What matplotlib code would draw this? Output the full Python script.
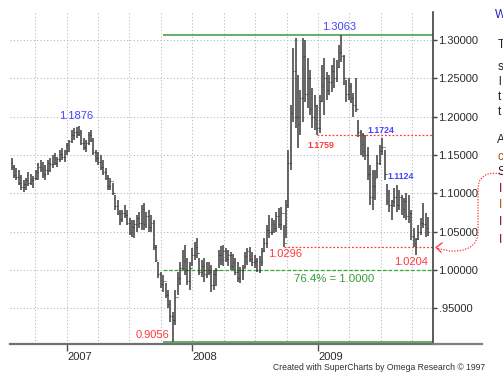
import numpy as np
import pandas as pd
import matplotlib
matplotlib.use('Agg')
import matplotlib.pyplot as plt
import matplotlib.dates as mdates
import matplotlib.transforms as mtransforms
from matplotlib.path import Path
from matplotlib.patches import PathPatch
from matplotlib.lines import Line2D

plt.rcParams['font.family'] = ['Liberation Sans', 'DejaVu Sans']

# weekly bars, EUR/USD style quote
start = '2006-07-24'
highs = [1.146, 1.137, 1.133, 1.131, 1.124, 1.117, 1.120, 1.128, 1.125, 1.123,
         1.131, 1.140, 1.144, 1.141, 1.137, 1.144, 1.146, 1.150, 1.153, 1.148,
         1.157, 1.159, 1.157, 1.166, 1.170, 1.183, 1.185, 1.187, 1.188, 1.183,
         1.172, 1.170, 1.180, 1.183, 1.172, 1.157, 1.154, 1.150, 1.144, 1.133,
         1.124, 1.120, 1.114, 1.098, 1.091, 1.078, 1.078, 1.085, 1.078, 1.068,
         1.065, 1.065, 1.072, 1.076, 1.085, 1.087, 1.076, 1.078, 1.072, 1.065,
         1.033, 1.010, 0.997, 0.993, 0.983, 0.974, 0.961, 0.945, 0.974, 0.997,
         1.010, 1.026, 1.033, 1.016, 1.010, 1.029, 1.037, 1.042, 1.016, 1.013,
         1.016, 1.010, 1.010, 1.007, 1.000, 1.003, 1.026, 1.031, 1.033, 1.029,
         1.026, 1.023, 1.021, 1.016, 1.010, 1.004, 1.007, 1.023, 1.029, 1.030,
         1.023, 1.020, 1.016, 1.018, 1.029, 1.042, 1.059, 1.072, 1.068, 1.065,
         1.076, 1.081, 1.082, 1.059, 1.091, 1.157, 1.215, 1.290, 1.303, 1.255,
         1.235, 1.303, 1.300, 1.277, 1.261, 1.238, 1.228, 1.215, 1.228, 1.268,
         1.277, 1.258, 1.255, 1.268, 1.277, 1.274, 1.294, 1.307, 1.281, 1.248,
         1.251, 1.244, 1.231, 1.251, 1.196, 1.183, 1.179, 1.176, 1.161, 1.137,
         1.131, 1.131, 1.150, 1.163, 1.172, 1.157, 1.112, 1.104, 1.091, 1.107,
         1.111, 1.104, 1.098, 1.094, 1.101, 1.098, 1.078, 1.055, 1.042, 1.059,
         1.068, 1.087, 1.074, 1.069]
lows = [1.131, 1.120, 1.117, 1.111, 1.104, 1.102, 1.104, 1.110, 1.111, 1.107,
        1.117, 1.117, 1.128, 1.120, 1.117, 1.124, 1.128, 1.133, 1.137, 1.134,
        1.141, 1.144, 1.141, 1.150, 1.154, 1.166, 1.170, 1.172, 1.175, 1.163,
        1.157, 1.154, 1.163, 1.167, 1.150, 1.141, 1.137, 1.131, 1.124, 1.117,
        1.104, 1.104, 1.098, 1.078, 1.072, 1.059, 1.063, 1.068, 1.059, 1.046,
        1.043, 1.042, 1.050, 1.055, 1.052, 1.052, 1.055, 1.050, 1.050, 1.026,
        1.010, 0.990, 0.977, 0.971, 0.963, 0.950, 0.932, 0.906, 0.928, 0.967,
        0.980, 1.000, 0.993, 0.980, 0.974, 1.005, 1.013, 1.016, 0.993, 0.991,
        0.984, 0.990, 0.993, 0.971, 0.974, 0.979, 1.003, 1.007, 1.005, 1.010,
        1.005, 1.000, 1.000, 0.993, 0.984, 0.983, 0.987, 1.003, 1.007, 1.010,
        1.005, 1.003, 0.997, 0.996, 1.005, 1.023, 1.029, 1.042, 1.046, 1.048,
        1.050, 1.055, 1.052, 1.030, 1.042, 1.081, 1.131, 1.193, 1.185, 1.159,
        1.176, 1.193, 1.219, 1.211, 1.202, 1.185, 1.183, 1.176, 1.179, 1.219,
        1.202, 1.222, 1.228, 1.232, 1.238, 1.245, 1.264, 1.272, 1.242, 1.219,
        1.222, 1.218, 1.200, 1.206, 1.174, 1.150, 1.148, 1.144, 1.117, 1.085,
        1.078, 1.091, 1.120, 1.137, 1.150, 1.117, 1.085, 1.076, 1.065, 1.082,
        1.076, 1.078, 1.072, 1.068, 1.065, 1.061, 1.039, 1.030, 1.020, 1.039,
        1.046, 1.055, 1.043, 1.044]
closes = [1.135, 1.124, 1.121, 1.114, 1.108, 1.112, 1.117, 1.114, 1.118, 1.120,
          1.128, 1.134, 1.132, 1.125, 1.131, 1.140, 1.138, 1.146, 1.140, 1.145,
          1.151, 1.148, 1.155, 1.163, 1.168, 1.176, 1.180, 1.178, 1.180, 1.166,
          1.160, 1.166, 1.176, 1.170, 1.154, 1.146, 1.141, 1.135, 1.128, 1.120,
          1.110, 1.116, 1.101, 1.083, 1.075, 1.066, 1.075, 1.072, 1.062, 1.050,
          1.056, 1.060, 1.068, 1.061, 1.080, 1.060, 1.070, 1.056, 1.062, 1.030,
          1.013, 0.995, 0.982, 0.986, 0.968, 0.955, 0.940, 0.935, 0.965, 0.990,
          1.003, 1.012, 1.000, 0.985, 1.002, 1.020, 1.030, 1.022, 0.998, 1.005,
          0.995, 1.000, 0.998, 0.980, 0.995, 1.000, 1.020, 1.015, 1.025, 1.015,
          1.020, 1.005, 1.010, 0.998, 0.990, 1.000, 1.003, 1.018, 1.025, 1.015,
          1.010, 1.012, 1.000, 1.010, 1.025, 1.035, 1.052, 1.050, 1.060, 1.055,
          1.070, 1.060, 1.075, 1.035, 1.085, 1.140, 1.205, 1.260, 1.200, 1.190,
          1.225, 1.280, 1.230, 1.250, 1.210, 1.200, 1.215, 1.185, 1.220, 1.240,
          1.250, 1.235, 1.245, 1.260, 1.250, 1.265, 1.285, 1.280, 1.250, 1.230,
          1.240, 1.225, 1.215, 1.210, 1.180, 1.165, 1.155, 1.150, 1.125, 1.095,
          1.110, 1.120, 1.140, 1.155, 1.160, 1.125, 1.090, 1.085, 1.090, 1.095,
          1.085, 1.095, 1.080, 1.090, 1.070, 1.075, 1.045, 1.035, 1.040, 1.050,
          1.062, 1.060, 1.055, 1.050]
first_open = 1.140

price_ticks = [0.95, 1.00, 1.05, 1.10, 1.15, 1.20, 1.25, 1.30]
price_labels = ['.95000', '1.00000', '1.05000', '1.10000', '1.15000',
                '1.20000', '1.25000', '1.30000']
years = ['2007', '2008', '2009']

# retracement levels
green_levels = [1.3063, 0.9056]
fib_level = 1.0000
red_levels = [(1.1759, 127), (1.0296, 113)]
green_start = 63

# (text, bar, at high?, dx px, dy px, colour, size, bold)
notes = [('1.1876', 28, True, -3, 10, 'blue', 8, False),
         ('1.3063', 137, True, -2, 8, 'blue', 8, False),
         ('1.1759', 127, False, 4, -10, 'red', 6.3, True),
         ('1.1724', 154, True, -1, 8, 'blue', 6.3, True),
         ('1.1124', 156, True, 14, 8, 'blue', 6.3, True),
         ('1.0296', 113, False, 2, -7, 'red', 8, False),
         ('1.0204', 168, False, -5, -7, 'red', 8, False),
         ('0.9056', 67, False, -20, 7, 'red', 8, False)]
colours = {'blue': '#4444ff', 'red': '#ff3a3a', 'green': '#3a9a3a'}

dates = pd.date_range(start, periods=len(highs), freq='7D')
x = mdates.date2num(dates)
opens = [first_open] + closes[:-1]

W, H = 503, 375
fig = plt.figure(figsize=(W / 100, H / 100), dpi=100)
ax = fig.add_axes([10 / W, 31 / H, 423 / W, 332 / H])

x0 = mdates.date2num(pd.Timestamp('2007-01-01'))
ax.set_xlim(x0 - 165.8, x0 + 1064.6)
ax.set_ylim(0.9034, 1.3368)

bar_c = '#3c3c3c'
ax.vlines(x, lows, highs, color=bar_c, lw=1.1, zorder=3)
ax.hlines(opens, x - 2.6, x, color=bar_c, lw=0.8, zorder=3)
ax.hlines(closes, x, x + 2.6, color=bar_c, lw=0.8, zorder=3)

xr = ax.get_xlim()[1]
for lv in green_levels:
    ax.plot([x[green_start], xr], [lv, lv], color=colours['green'], lw=1.1,
            zorder=2, solid_capstyle='butt')
ax.plot([x[green_start], xr], [fib_level, fib_level], color='#33aa33', lw=0.9,
        ls=(0, (3, 1.5)), zorder=2)
for lv, b in red_levels:
    ax.plot([x[b], xr], [lv, lv], color='#ff3a3a', lw=0.9, ls=(0, (1.5, 1.5)),
            zorder=2)

for txt, b, top, dx, dy, c, sz, bold in notes:
    y = highs[b] if top else lows[b]
    ax.annotate(txt, (x[b], y), xytext=(dx, dy), textcoords='offset pixels',
                ha='center', va='center', color=colours[c], fontsize=sz,
                fontweight='bold' if bold else 'normal', zorder=5)
ax.annotate('76.4% = 1.0000', (x[134], fib_level), xytext=(0, -9),
            textcoords='offset pixels', ha='center', va='center',
            color=colours['green'], fontsize=8.2)

# axes styling
for s in ['left', 'top']:
    ax.spines[s].set_visible(False)
ax.spines['right'].set_color('#404040')
ax.spines['right'].set_linewidth(1.2)
ax.spines['bottom'].set_color('#707070')
ax.spines['bottom'].set_linewidth(1.6)

ax.yaxis.tick_right()
ax.set_yticks(price_ticks)
ax.set_yticklabels(price_labels)
ax.tick_params(axis='y', length=3, width=1, color='#404040', pad=1,
               labelsize=8, labelcolor='#2a2a2a')

year_pos = [mdates.date2num(pd.Timestamp(y + '-01-01')) for y in years]
ax.set_xticks(year_pos)
ax.set_xticklabels(years)
for lab in ax.get_xticklabels():
    lab.set_horizontalalignment('left')
quarters = mdates.date2num(pd.date_range('2006-10-01', '2009-10-01', freq='QS'))
ax.set_xticks(quarters, minor=True)
ax.tick_params(axis='x', which='major', length=5, width=1, color='#505050',
               pad=1, labelsize=8, labelcolor='#2a2a2a')
ax.tick_params(axis='x', which='minor', length=0)

grid_kw = dict(color='#b4b4b4', lw=0.75, ls=(0, (1, 2.2)))
ax.grid(True, axis='y', **grid_kw)
ax.grid(True, axis='x', which='both', **grid_kw)
ax.set_axisbelow(True)

# figure pixel coordinates (from top-left)
px = mtransforms.Affine2D().scale(1 / W, -1 / H).translate(0, 1) + fig.transFigure

fig.add_artist(Line2D([433, 482], [344, 344], color='#808080', lw=1.6,
                      transform=px))

verts = [(505, 175), (494, 172), (484, 172), (479, 182),
         (478, 188), (478, 232),
         (478, 246), (466, 252), (450, 251),
         (440, 249), (437, 248)]
codes = [Path.MOVETO, Path.CURVE4, Path.CURVE4, Path.CURVE4,
         Path.LINETO, Path.LINETO,
         Path.CURVE4, Path.CURVE4, Path.CURVE4,
         Path.LINETO, Path.LINETO]
fig.add_artist(PathPatch(Path(verts, codes), fill=False, edgecolor='#ff3030',
                         lw=0.9, ls=(0, (1, 1.2)), transform=px))
fig.add_artist(Line2D([442, 436, 441], [243, 247.5, 252], color='#ff3030',
                      lw=0.9, transform=px))

fig.text(273 / W, 1 - 367 / H,
         'Created with SuperCharts by Omega Research \u00a9 1997',
         fontsize=6.2, color='#303030', va='center', ha='left')

# text of the neighbouring panel, cut off by the image edge
side = [('W', 495, 15, '#2020c0'), ('T', 498, 45, '#202020'),
        ('s', 498, 67, '#202020'), ('l', 498, 82, '#202020'),
        ('t', 498, 97, '#202020'), ('t', 498, 112, '#202020'),
        ('A', 497, 140, '#202020'), ('c', 498, 157, '#a05000'),
        ('S', 498, 172, '#202020'), ('I', 499, 189, '#800030'),
        ('I', 499, 205, '#a05010'), ('I', 499, 222, '#800030'),
        ('I', 499, 240, '#800030')]
for t, tx, ty, c in side:
    fig.text(tx / W, 1 - ty / H, t, fontsize=8.5, color=c, va='center',
             ha='left')

fig.savefig('out.png', dpi=100)
